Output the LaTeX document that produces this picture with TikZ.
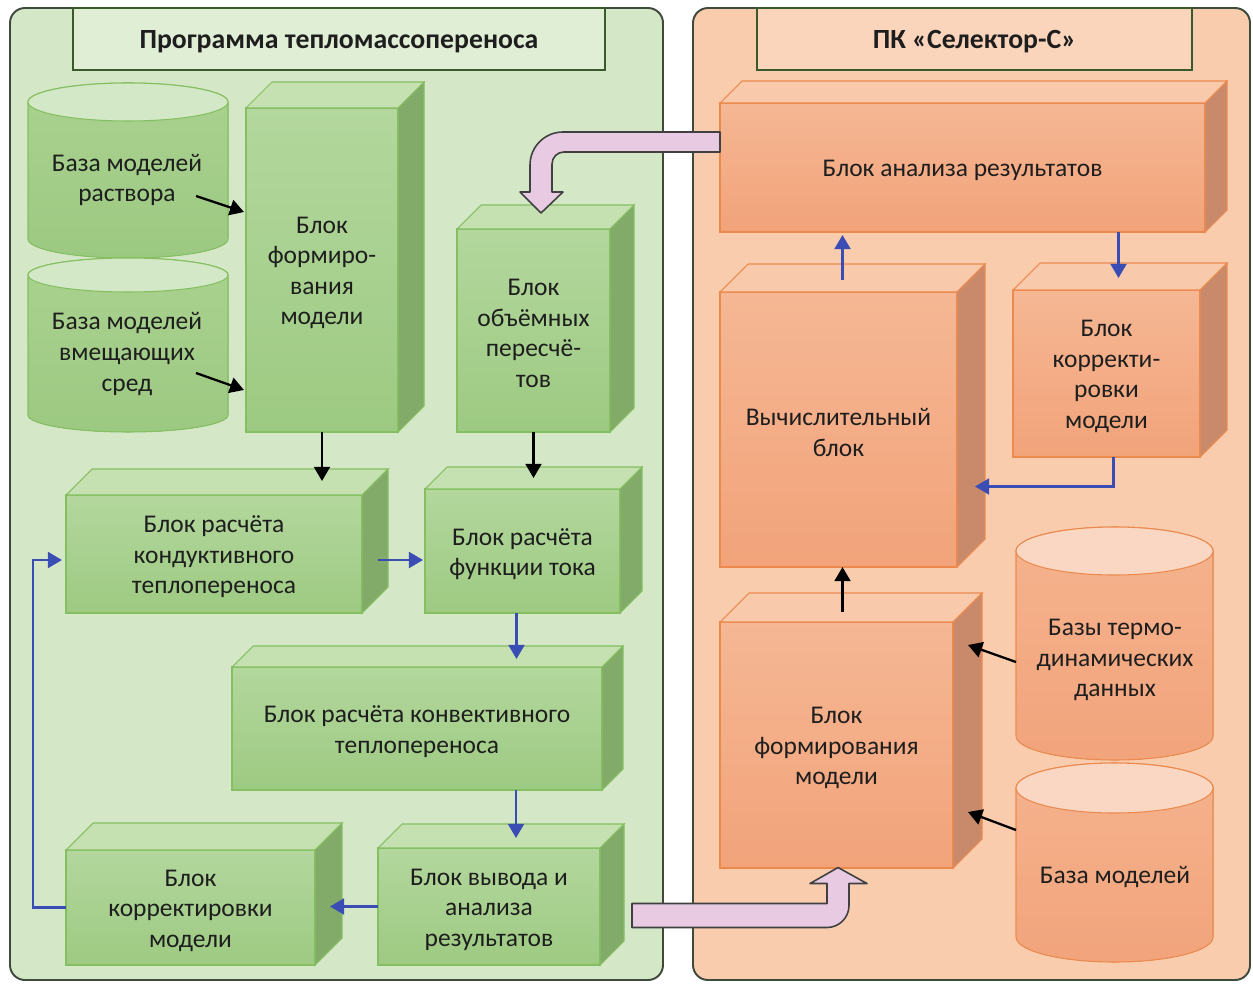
\documentclass[tikz,border=0pt]{standalone}
\usepackage{fontspec}
\setmainfont{Carlito}
\usetikzlibrary{arrows.meta,calc}
\definecolor{gpan}{HTML}{D4E7C7}
\definecolor{gtitle}{HTML}{E0EED6}
\definecolor{opan}{HTML}{F8CCAD}
\definecolor{otitle}{HTML}{FAD5BC}
\definecolor{panline}{HTML}{3E4A3C}
\definecolor{titline}{HTML}{3B5A2C}
\definecolor{gF1}{HTML}{B3D79D}
\definecolor{gF2}{HTML}{9DCA82}
\definecolor{gT}{HTML}{C5E1B2}
\definecolor{gS}{HTML}{82AA69}
\definecolor{gB}{HTML}{86BF62}
\definecolor{oF1}{HTML}{F5B794}
\definecolor{oF2}{HTML}{F2A37A}
\definecolor{oT}{HTML}{F8C9AB}
\definecolor{oS}{HTML}{C98A6C}
\definecolor{oB}{HTML}{EC8A4E}
\definecolor{gC1}{HTML}{AAD290}
\definecolor{gC2}{HTML}{9CC982}
\definecolor{gCT}{HTML}{D3E8C6}
\definecolor{oC1}{HTML}{F5B38E}
\definecolor{oC2}{HTML}{F2A47C}
\definecolor{oCT}{HTML}{F9D7C3}
\definecolor{pinkc}{HTML}{E8CAE3}
\definecolor{bluec}{HTML}{3A4DB5}
\definecolor{txt}{HTML}{1E1E1E}
\newcommand\fs{\fontsize{14.5}{17.4}\selectfont}
\newcommand\fst{\fontsize{15.8}{19}\selectfont\bfseries}
\tikzset{
  x=0.02cm, y=-0.02cm,
  panel/.style={line width=1.1pt, draw=panline, rounded corners=0.3cm},
  titlebox/.style={line width=1.1pt, draw=titline, inner sep=0, outer sep=0},
  titletext/.style={font=\fst, text=txt, inner sep=0},
  boxtext/.style={align=center, font=\fs, text=txt, inner sep=0},
  gfront/.style={draw=gB, line width=0.6pt, top color=gF1, bottom color=gF2, inner sep=0, outer sep=0},
  gtop/.style={draw=gB, line width=0.6pt, fill=gT},
  gside/.style={draw=gB, line width=0.6pt, fill=gS},
  ofront/.style={draw=oB, line width=0.6pt, top color=oF1, bottom color=oF2, inner sep=0, outer sep=0},
  otop/.style={draw=oB, line width=0.6pt, fill=oT},
  oside/.style={draw=oB, line width=0.6pt, fill=oS},
  gcyl/.style={draw=gB, line width=0.6pt, top color=gC1, bottom color=gC2},
  gcyltop/.style={draw=gB, line width=0.6pt, fill=gCT},
  ocyl/.style={draw=oB, line width=0.6pt, top color=oC1, bottom color=oC2},
  ocyltop/.style={draw=oB, line width=0.6pt, fill=oCT},
  blk/.style={draw=black, line width=1.3pt, -{Triangle[length=8pt,width=9pt]}},
  blu/.style={draw=bluec, line width=1.4pt, -{Triangle[length=8pt,width=9pt]}},
  pinkarr/.style={fill=pinkc, draw=black!75, line width=0.9pt, line join=round},
}
% name, prefix, x1, y1, x2, y2, depth, text
\newcommand\cubox[8]{%
  \node[#2front, minimum width={(#5-#3)*0.02cm}, minimum height={(#6-#4)*0.02cm}] (#1) at ({(#3+#5)/2},{(#4+#6)/2}) {};
  \filldraw[#2top] (#1.north west) -- ++(#7,-#7) -- ++({#5-#3},0) -- (#1.north east) -- cycle;
  \filldraw[#2side] (#1.north east) -- ++(#7,-#7) -- ++(0,{#6-#4}) -- (#1.south east) -- cycle;
  \node[boxtext] (#1-t) at ($(#1.center)+(0,3)$) {#8};
}
% x1, x2, ytop, ybot, ry, prefix
\newcommand\cyl[6]{%
  \filldraw[#6cyl] ({#1},{#3+#5}) -- ({#1},{#4-#5}) arc[start angle=180,end angle=0,x radius={(#2-#1)/2},y radius=#5] -- ({#2},{#3+#5}) arc[start angle=0,end angle=-180,x radius={(#2-#1)/2},y radius=#5] -- cycle;
  \filldraw[#6cyltop] ({(#1+#2)/2},{#3+#5}) ellipse[x radius={(#2-#1)/2},y radius=#5];
}
\begin{document}
\begin{tikzpicture}
\useasboundingbox (0,0) rectangle (1253,983);
\fill[white] (0,0) rectangle (1253,983);
% panels
\filldraw[panel, fill=gpan] (10,8) rectangle (663,980);
\filldraw[panel, fill=opan] (693,8) rectangle (1250,980);
\node[titlebox, fill=gtitle, minimum width={532*0.02cm}, minimum height={62*0.02cm}] (tl) at (339,39) {};
\node[titletext] (tl-t) at ($(tl.center)+(0,3)$) {Программа тепломассопереноса};
\node[titlebox, fill=otitle, minimum width={435*0.02cm}, minimum height={62*0.02cm}] (tr) at (974.5,39) {};
\node[titletext] (tr-t) at ($(tr.center)+(0,3)$) {ПК «Селектор-С»};

% left cylinders
\cyl{28}{228}{83}{258}{19}{g}
\node[boxtext] (c1) at (127,180) {База моделей\\раствора};
\cyl{28}{228}{258}{432}{17}{g}
\node[boxtext] (c2) at (127,354) {База моделей\\вмещающих\\сред};

% left boxes
\cubox{fm}{g}{246}{108}{398}{432}{26}{Блок\\формиро-\\вания\\модели}
\cubox{ob}{g}{457}{229}{610}{432}{24}{Блок\\объёмных\\пересчё-\\тов}
\cubox{kd}{g}{66}{495}{362}{613}{26}{Блок расчёта\\кондуктивного\\теплопереноса}
\cubox{ft}{g}{425}{489}{620}{613}{22}{Блок расчёта\\функции тока}
\cubox{kv}{g}{232}{667}{602}{790}{21}{Блок расчёта конвективного\\теплопереноса}
\cubox{kl}{g}{66}{850}{315}{965}{27}{Блок\\корректировки\\модели}
\cubox{vy}{g}{378}{848}{600}{965}{24}{Блок вывода и\\анализа\\результатов}

% right boxes
\cubox{an}{o}{720}{103}{1205}{232}{22}{Блок анализа результатов}
\cubox{vb}{o}{720}{292}{957}{567}{28}{Вычислительный\\блок}
\cubox{kr}{o}{1013}{290}{1200}{457}{27}{Блок\\корректи-\\ровки\\модели}
\cubox{fr}{o}{720}{622}{953}{868}{29}{Блок\\формирования\\модели}

% right cylinders
\cyl{1016}{1213}{527}{760}{24}{o}
\node[boxtext] (c3) at (1115,660) {Базы термо-\\динамических\\данных};
\cyl{1016}{1213}{763}{962}{25}{o}
\node[boxtext] (c4) at (1115,877) {База моделей};

% black arrows (left)
\coordinate (c1a) at (196,196);
\coordinate (c2a) at (196,373);
\draw[blk] (c1a) -- ($(fm.west)+(-2,-58)$);
\draw[blk] (c2a) -- ($(fm.west)+(-2,120)$);
\draw[blk] (fm.south) -- ($(fm.south |- kd.north)+(0,-14)$);
\draw[blk] (ob.south) -- ($(ob.south |- ft.north)+(0,-11)$);

% blue arrows (left)
\coordinate (a1) at ($(kd.east)+(16,6)$);
\draw[blu] (a1) -- ($(a1 -| ft.west)+(-2,0)$);
\coordinate (a2) at ($(ft.south)+(-6,0)$);
\draw[blu] (a2) -- ($(a2 |- kv.north)+(0,-8)$);
\coordinate (a3) at ($(kv.south)+(99,0)$);
\draw[blu] (a3) -- ($(a3 |- vy.north)+(0,-10)$);
\draw[blu] (vy.west) -- ($(vy.west -| kl.east)+(15,0)$);
\draw[blu] (kl.west) -- ++(-33,0) |- ($(kd.west)+(-4,6)$);

% blue and black arrows (right)
\draw[blu] ($(vb.north)+(4,-12)$) -- ($(vb.north |- an.south)+(4,3)$);
\draw[blu] ($(kr.north |- an.south)+(12,0)$) -- ($(kr.north)+(12,-12)$);
\draw[blu] ($(kr.south)+(7,0)$) |- ($(vb.east)+(18,57)$);
\draw[blk] ($(fr.north)+(6,-10)$) -- ($(fr.north |- vb.south)+(6,0)$);
\coordinate (c3a) at (1016,662);
\coordinate (c4a) at (1016,830);
\draw[blk] (c3a) -- ($(fr.east)+(15,-100)$);
\draw[blk] (c4a) -- ($(fr.east)+(15,67)$);

% pink arrows
\draw[pinkarr] ($(an.north west)+(0,29)$) -- ++(-157,0)
  arc[start angle=270,end angle=180,radius=33] -- ++(0,27) -- ++(-10,0)
  -- ++(21,21) -- ++(22,-21) -- ++(-11,0) -- ++(0,-28)
  arc[start angle=180,end angle=270,radius=12] -- ++(156,0) -- cycle;
\draw[pinkarr] ($(vy.east)+(32,-3)$) -- ++(195,0) -- ++(0,-20) -- ++(-17,0)
  -- ++(28,-16) -- ++(29,16) -- ++(-18,0) -- ++(0,22)
  arc[start angle=0,end angle=90,radius=22] -- ++(-195,0) -- cycle;
\end{tikzpicture}
\end{document}
